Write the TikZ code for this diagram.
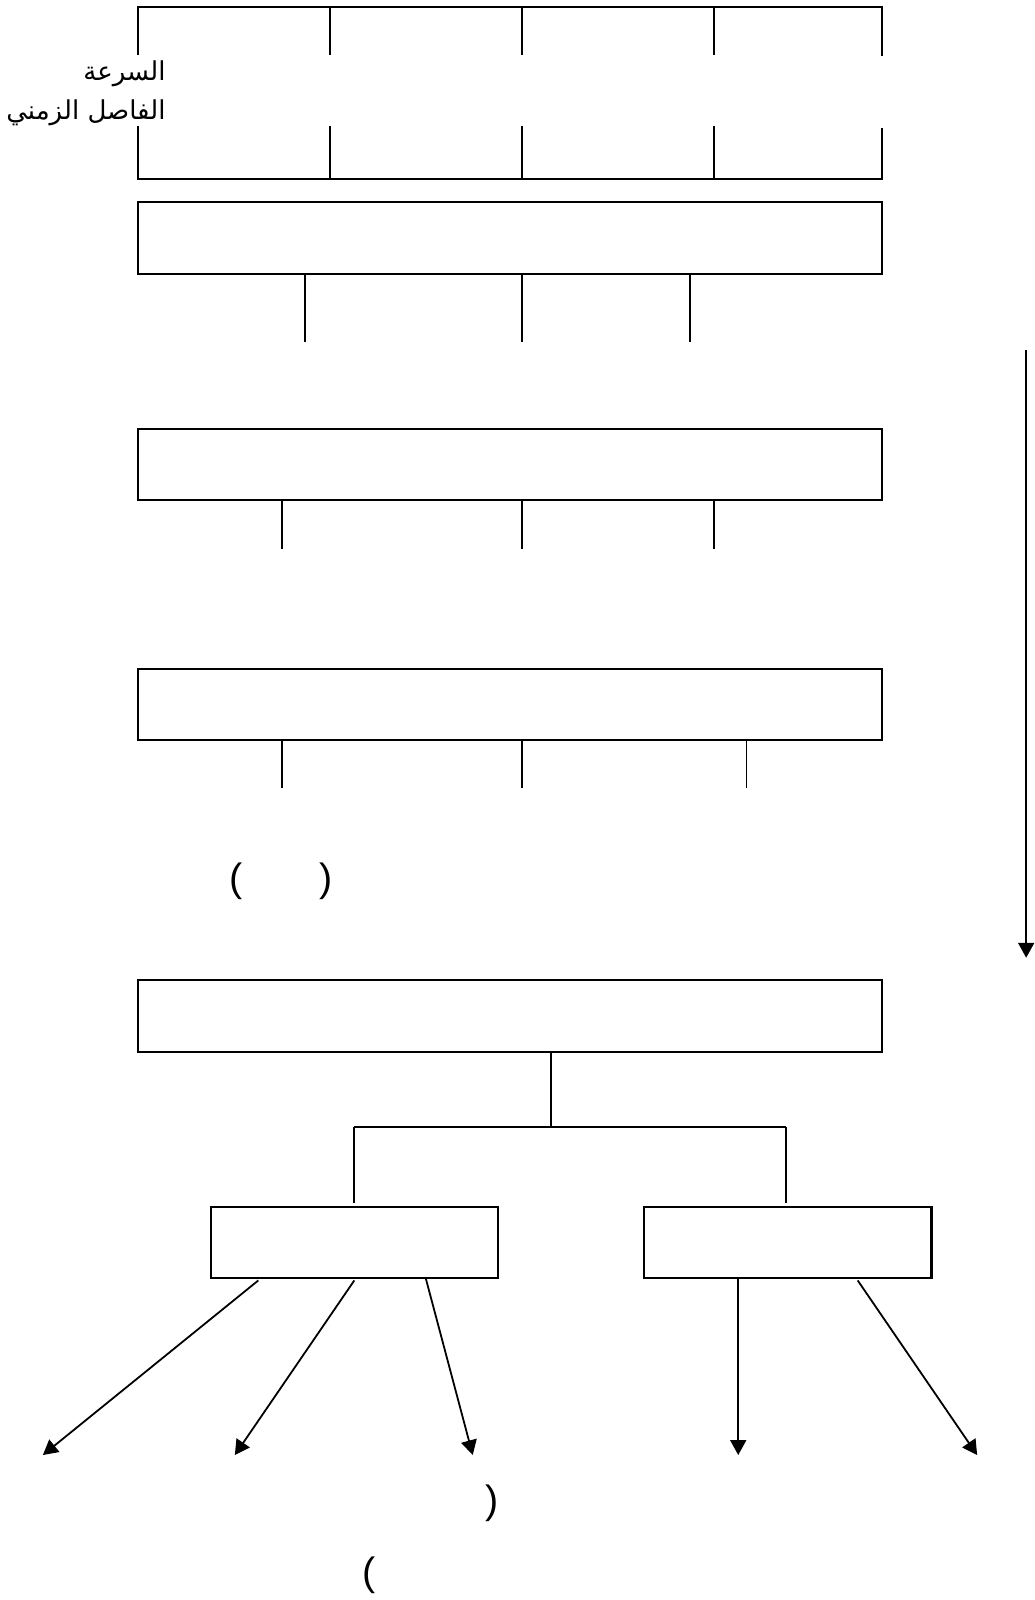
\documentclass[tikz,border=0pt]{standalone}
\usepackage{fontspec}
\setmainfont{Liberation Sans}
\newfontfamily\arabicfont[Script=Arabic]{DejaVu Sans}
\TeXXeTstate=1
\usetikzlibrary{arrows.meta}
\begin{document}
\begin{tikzpicture}[x=0.02cm,y=-0.02cm,
  line width=1pt,
  boxnode/.style={draw, line width=1.2pt, inner sep=0pt, outer sep=0pt, minimum height=1.4cm},
  widebox/.style={boxnode, minimum width=14.58cm},
  smallbox/.style={boxnode, minimum width=5.63cm},
  arr/.style={-{Triangle[length=0.29cm,width=0.31cm]}},
  paren/.style={inner sep=0pt, font=\fontsize{22}{26}\selectfont},
  lbl/.style={inner sep=0pt, anchor=base east, font=\arabicfont\fontsize{14.5}{17}\selectfont}]
\useasboundingbox (0,0) rectangle (1013,1567);

% ---- top frame ----
\draw (135,54) -- (135,7) -- (864,7) -- (864,55);
\draw (135,123) -- (135,175) -- (864,175) -- (864,125);
\foreach \x in {323,511,699}{
  \draw (\x,7) -- (\x,54);
  \draw (\x,123) -- (\x,175);
}
\node[lbl] (speed) at (163,79) {\beginR السرعة\endR};
\node[lbl] (interval) at (163,117) {\beginR الفاصل الزمني\endR};

% ---- wide boxes ----
\node[widebox] (r1) at (499.5,233) {};
\node[widebox] (r2) at (499.5,455) {};
\node[widebox] (r3) at (499.5,690) {};
\node[widebox] (r4) at (499.5,995) {};

% ticks below boxes
\foreach \x [count=\i] in {299,511,676}{
  \coordinate (ta\i) at (\x,335);
  \draw (ta\i |- r1.south) -- (ta\i);
}
\foreach \x [count=\i] in {276,511,699}{
  \coordinate (tb\i) at (\x,538);
  \draw (tb\i |- r2.south) -- (tb\i);
}
\foreach \x [count=\i] in {276,511,731}{
  \coordinate (tc\i) at (\x,772);
  \draw (tc\i |- r3.south) -- (tc\i);
}

% parentheses
\node[paren] (p1) at (231,863) {(};
\node[paren] (p2) at (319,863) {)};
\node[paren] (p3) at (482,1472) {)};
\node[paren] (p4) at (361,1543) {(};

% right long arrow
\coordinate (ra) at (1005,343);
\coordinate (rb) at (1005,938);
\draw[arr] (ra) -- (rb);

% ---- tree ----
\node[smallbox] (bl) at (347,1217) {};
\node[smallbox] (br) at (771.5,1217) {};
\coordinate (j) at (540,1104);
\coordinate (jl) at (347,1104);
\coordinate (jr) at (770,1104);
\coordinate (dl) at (347,1178);
\coordinate (dr) at (770,1178);
\draw (j |- r4.south) -- (j);
\draw (jl) -- (jr);
\draw (jl) -- (dl);
\draw (jr) -- (dr);

% arrows out of the small boxes
\coordinate (s1) at (253,1254);
\coordinate (s2) at (347,1254);
\coordinate (s3) at (417,1252);
\coordinate (s4) at (723,1252);
\coordinate (s5) at (840,1254);
\coordinate (e1) at (42,1425);
\coordinate (e2) at (230,1425);
\coordinate (e3) at (463,1425);
\coordinate (e4) at (723,1425);
\coordinate (e5) at (957,1425);
\foreach \i in {1,...,5}{
  \draw[arr] (s\i) -- (e\i);
}
\end{tikzpicture}
\end{document}
